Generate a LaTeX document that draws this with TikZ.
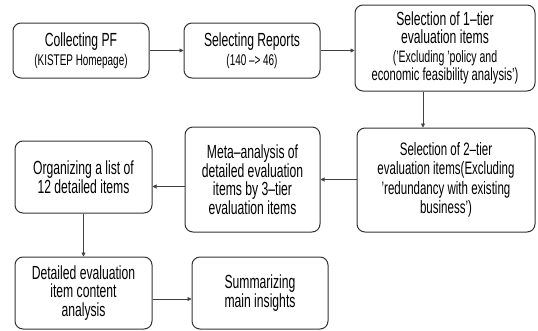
\documentclass[tikz,border=0pt]{standalone}
\usepackage{fontspec}
\setmainfont{Liberation Sans}[FakeStretch=0.64]
\usetikzlibrary{arrows.meta}
\newcommand{\bigfs}{\fontsize{19}{18.5}\selectfont}
\newcommand{\midfs}{\fontsize{18}{19.5}\selectfont}
\newcommand{\smallfs}{\fontsize{15.5}{16.5}\selectfont}
\tikzset{
	stage/.style={draw=black!80, line width=1pt, rounded corners=8pt, align=center, inner sep=1pt, font=\bigfs},
	arr/.style={draw=black!75, line width=0.6pt, -{Triangle[length=4pt,width=4pt]}}
}

\begin{document}
\begin{tikzpicture}[x=1pt,y=-1pt]
			\useasboundingbox (0,0) rectangle (538,330);
			% first row
			\node[stage, minimum width=136pt, minimum height=55pt] (collect) at (81, 50.5){Collecting PF\\{\smallfs(KISTEP Homepage)}};
			\node[stage, minimum width=136pt, minimum height=55pt] (select) at (252, 50.5){Selecting Reports\\{\smallfs(140 --> 46)}};
			\node[stage, minimum width=180pt, minimum height=86pt] (tierone) at (445, 48){Selection of 1--tier\\evaluation items\\{\fontsize{16.5}{17}\selectfont('Excluding 'policy and}\\{\fontsize{17.5}{17}\selectfont economic feasibility analysis')}};
			% second row
			\node[stage, minimum width=178pt, minimum height=104pt, font=\midfs] (tiertwo) at (446, 180){Selection of 2--tier\\evaluation items(Excluding\\'redundancy with existing\\business')};
			\node[stage, minimum width=135pt, minimum height=105pt] (meta) at (252.5, 179.5){Meta--analysis of\\detailed evaluation\\items by 3--tier\\evaluation items};
			\node[stage, minimum width=137pt, minimum height=72pt] (organize) at (83.5, 177){Organizing a list of\\12 detailed items};
			% third row
			\node[stage, minimum width=137pt, minimum height=72pt] (detail) at (83.5, 293){Detailed evaluation\\item content\\analysis};
			\node[stage, minimum width=136pt, minimum height=72pt] (summary) at (260, 293){Summarizing\\main insights};
			% connectors
			\draw[arr] (collect) -- (select);
			\draw[arr] (select.east) -- (select.east -| tierone.west);
			\draw[arr] ([xshift=-22pt]tierone.south) -- ([xshift=-22pt]tierone.south |- tiertwo.north);
			\draw[arr] (tiertwo.west |- meta.east) -- (meta.east);
			\draw[arr] ([yshift=-7pt]meta.west) -- ([yshift=-7pt]meta.west -| organize.east);
			\draw[arr] (organize) -- (detail);
			\draw[arr] ([yshift=-6pt]detail.east) -- ([yshift=-6pt]detail.east -| summary.west);
		\end{tikzpicture}
\end{document}
